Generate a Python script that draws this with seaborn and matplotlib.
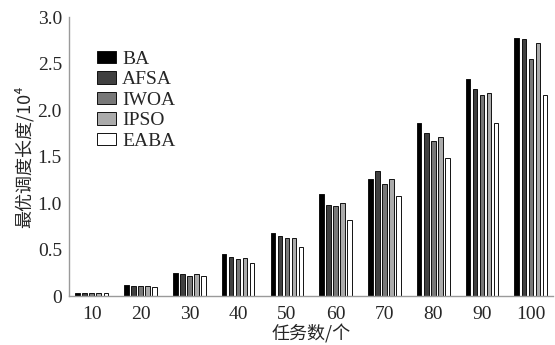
import pandas as pd
import matplotlib.pyplot as plt
import seaborn as sns

# task counts (x categories)
tasks = ["10", "20", "30", "40", "50", "60", "70", "80", "90", "100"]

# optimal schedule length / 10^4
ba   = [0.035, 0.118, 0.25, 0.45, 0.68, 1.10, 1.26, 1.86, 2.34, 2.78]
afsa = [0.030, 0.107, 0.24, 0.425, 0.65, 0.98, 1.34, 1.75, 2.23, 2.77]
iwoa = [0.035, 0.105, 0.22, 0.40, 0.62, 0.97, 1.21, 1.67, 2.16, 2.55]
ipso = [0.030, 0.105, 0.235, 0.405, 0.62, 1.00, 1.26, 1.71, 2.18, 2.72]
eaba = [0.030, 0.100, 0.21, 0.36, 0.53, 0.82, 1.08, 1.49, 1.86, 2.16]

methods = ["BA", "AFSA", "IWOA", "IPSO", "EABA"]
colors = ["#000000", "#404040", "#787878", "#ababab", "#ffffff"]

y_ticks = [0, 0.5, 1.0, 1.5, 2.0, 2.5, 3.0]
y_tick_labels = ["0", "0.5", "1.0", "1.5", "2.0", "2.5", "3.0"]

rows = []
for name, vals in zip(methods, [ba, afsa, iwoa, ipso, eaba]):
    for t, v in zip(tasks, vals):
        rows.append({"task": t, "method": name, "value": v})
df = pd.DataFrame(rows)

sns.set_style("white")
plt.rcParams["font.family"] = ["Liberation Serif", "Noto Sans CJK SC"]

fig = plt.figure(figsize=(5.55, 3.45), dpi=100)
ax = fig.add_axes([0.124, 0.142, 0.872, 0.808])

sns.barplot(
    data=df, x="task", y="value", hue="method",
    order=tasks, hue_order=methods, palette=colors,
    width=0.72, gap=0.35, edgecolor="#111111", linewidth=0.7,
    ax=ax,
)

ax.set_xlim(-0.47, 9.45)
ax.set_ylim(0, 3.0)
ax.set_yticks(y_ticks)
ax.set_yticklabels(y_tick_labels)

for side in ["top", "right"]:
    ax.spines[side].set_visible(False)
for side in ["left", "bottom"]:
    ax.spines[side].set_color("#9a9a9a")
    ax.spines[side].set_linewidth(1.0)

ax.tick_params(axis="both", direction="in", length=3, color="#9a9a9a",
               labelsize=14, pad=5)
ax.tick_params(axis="x", pad=7)

ax.set_xlabel("任务数/个", fontsize=13, family=["Noto Sans CJK SC", "Liberation Serif"],
              labelpad=1)
ax.set_ylabel("最优调度长度/10⁴", fontsize=13,
              family=["Noto Sans CJK SC", "Liberation Serif"], labelpad=3)

ax.legend(loc="upper left", bbox_to_anchor=(0.058, 0.88), frameon=False,
          fontsize=14, handlelength=1.0, handleheight=0.6,
          handletextpad=0.3, labelspacing=0.18, borderaxespad=0, borderpad=0)

fig.savefig("out.png", dpi=100)
